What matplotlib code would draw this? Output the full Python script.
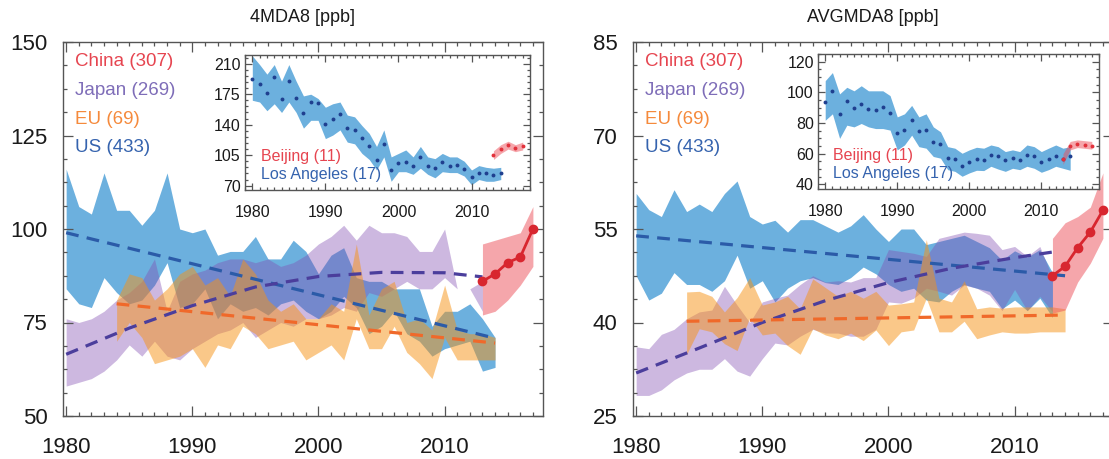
import numpy as np
import matplotlib
matplotlib.use('Agg')
import matplotlib.pyplot as plt
from matplotlib.ticker import MultipleLocator, FixedLocator, AutoMinorLocator

plt.rcParams['font.family'] = ['Liberation Sans', 'DejaVu Sans']

### DATA
years = np.arange(1980, 2015)          # US, Los Angeles
years_jp = np.arange(1980, 2014)       # Japan
years_eu = np.arange(1984, 2015)       # EU
years_cn = np.arange(2013, 2018)       # China, Beijing

# 4MDA8 [ppb]
us4_lo = [84, 80, 79, 87, 83, 80, 81, 85, 91, 79, 80, 84, 76, 80, 78, 79, 77, 80, 81, 78,
          76, 78, 82, 79, 72, 74, 78, 72, 70, 66, 68, 69, 70, 62, 63]
us4_hi = [116, 106, 104, 115, 105, 105, 101, 105, 115, 100, 99, 100, 93, 94, 94, 98, 92, 92, 97, 94,
          88, 93, 95, 87, 86, 86, 84, 84, 84, 74, 78, 78, 80, 76, 71]
jp4_lo = [58, 59, 60, 62, 65, 69, 66, 70, 66, 65, 68, 70, 72, 73, 75, 71, 73, 75, 74, 76,
          76, 77, 79, 78, 83, 82, 84, 86, 84, 84, 87, 84, 84, 78]
jp4_hi = [76, 75, 76, 78, 81, 83, 86, 92, 78, 86, 88, 89, 91, 92, 92, 91, 92, 90, 91, 93,
          96, 98, 101, 97, 101, 99, 99, 98, 94, 94, 100, 84, 84, 86]
eu4_lo = [70, 75, 71, 64, 65, 66, 68, 63, 69, 68, 74, 72, 68, 69, 70, 65, 67, 69, 65, 76,
          68, 68, 74, 67, 64, 60, 71, 65, 65, 65, 65]
eu4_hi = [81, 88, 87, 81, 84, 88, 90, 85, 87, 82, 92, 88, 81, 78, 80, 76, 76, 80, 78, 96,
          77, 84, 86, 75, 76, 73, 85, 73, 72, 72, 71]
cn4_med = [86, 88, 91, 92.5, 100]
cn4_lo = [77, 78, 81, 85, 90]
cn4_hi = [96, 97, 98, 99, 106]

us4_trend_x, us4_trend = [1980, 2014], [99, 70.8]
jp4_trend_x = [1980, 1985, 1990, 1995, 2000, 2005, 2010, 2013]
jp4_trend = [66.5, 73.5, 79.5, 84.5, 87.3, 88.4, 88.3, 87.2]
eu4_trend_x, eu4_trend = [1984, 2014], [80, 69.5]

la4_med = [193, 187, 176, 195, 170, 190, 171, 153, 166, 165, 141, 147, 152, 136, 134, 125, 116, 100, 118, 88,
           96, 97, 93, 103, 93, 90, 97, 93, 94, 89, 80, 85, 84, 82, 85]
la4_lo = [168, 166, 156, 164, 154, 166, 154, 136, 145, 145, 124, 128, 134, 120, 118, 107, 100, 88, 103, 75,
          86, 86, 83, 90, 83, 79, 86, 85, 85, 81, 71, 77, 75, 75, 77]
la4_hi = [219, 209, 198, 209, 190, 209, 190, 173, 175, 170, 160, 164, 166, 151, 149, 139, 130, 115, 134, 103,
          107, 111, 103, 115, 103, 101, 107, 103, 103, 98, 88, 93, 91, 90, 91]
bj4_med = [105, 112, 116.5, 113, 115.5]
bj4_lo = [100, 107, 112, 109, 111]
bj4_hi = [110, 117, 121, 117, 120]

# AVGMDA8 [ppb]
usa_lo = [47.5, 43.6, 44.7, 48, 46.1, 46.1, 45, 46.7, 50.8, 45.5, 46.7, 43.3, 45.5, 46.7, 47.2, 46.4, 46.1,
          47.2, 48.9, 47.8, 46.1, 45, 45.5, 43.6, 43.3, 45, 46.1, 45.5, 45, 42.2, 43.6, 41.9, 43.9, 40.8]
usa_hi = [60.7, 58.1, 57, 61.3, 57.8, 59, 57.8, 60.7, 62.7, 57, 55.8, 56.4, 54.5, 56.5, 56.5, 55.5, 54.5,
          55.5, 57.3, 55, 53, 55, 55, 52.5, 53, 53.5, 54, 53, 52, 50, 51.5, 50.5, 51.7, 48]
jpa_lo = [28.3, 28.3, 29.2, 30.8, 31.9, 32.5, 32.5, 34.2, 32.2, 31.4, 34.2, 36.7, 36.4, 37.8, 38.9, 38.3, 38.3,
          37.8, 37.8, 38.9, 43.3, 43.1, 43.9, 45.5, 45, 44.4, 46, 45.5, 44.4, 41.9, 45.3, 41.9, 44.2, 41.7]
jpa_hi = [36.1, 35.8, 38.1, 38.9, 40.6, 41.7, 42, 45.8, 42.8, 40, 43.3, 43.9, 44.4, 46.1, 47.5, 46.5, 46.7,
          46.5, 47.2, 47.2, 51.7, 51.4, 51.1, 50.6, 53.5, 54, 54.5, 54.3, 54, 51.7, 52.2, 50.6, 52.2, 47.2]
eua_lo = [34.9, 39, 38.5, 36.6, 35.5, 40.8, 38, 38.3, 36.3, 34.9, 39, 38, 37.4, 38.3, 37.1, 38.8,
          36.3, 38.5, 38.8, 43.9, 38.5, 38.5, 40.2, 37.4, 38, 38.5, 38.3, 38.3, 38.5, 38.5, 38.5]
eua_hi = [44.9, 45, 44.2, 41.7, 44, 47.2, 42.8, 43.3, 44.2, 42.2, 47, 45.6, 44.2, 45, 43.9, 45,
          42.8, 43, 43.3, 53.3, 43.9, 43.3, 46.7, 42.2, 42.5, 42.3, 42.5, 42.5, 42.5, 42.5, 42.2]
cna_med = [47.5, 49, 52, 54.5, 58]
cna_lo = [41.5, 42, 46.5, 49.5, 53.5]
cna_hi = [53.5, 56, 57, 58.5, 64]

usa_trend_x, usa_trend = [1980, 2014], [53.9, 47.5]
jpa_trend_x = [1980, 1985, 1990, 1995, 2000, 2005, 2010, 2013]
jpa_trend = [31.9, 35.9, 40, 43.5, 46.4, 48.7, 50.4, 51.3]
eua_trend_x, eua_trend = [1984, 2014], [40.2, 41.2]

laa_med = [93.6, 101, 85.7, 94.2, 89.7, 92.5, 88.9, 88.7, 90.4, 86.5, 73.2, 75.4, 81.8, 74.7, 75.4, 67.9, 66.1,
           57.3, 56.5, 51.8, 54.8, 56.5, 56.1, 59.3, 58.2, 55.6, 57.1, 56.1, 59.3, 58.2, 54.8, 56.7, 58.6, 56.5, 58.2]
laa_lo = [81.8, 86, 70, 78.6, 77.5, 79.7, 77.5, 76.4, 76.4, 75.4, 62.5, 65.7, 72.1, 64.6, 63.6, 58.2, 57.1,
          49.6, 48.5, 45.3, 47.5, 49.2, 49, 51.8, 50, 48.5, 50.5, 49.6, 51.8, 50.5, 47.9, 49.6, 51.8, 50.5, 49.2]
laa_hi = [107.6, 112.9, 99, 103.3, 101, 104.3, 101, 101, 101, 97.9, 84, 86, 91.5, 84, 86, 77.5, 74.3,
          64.6, 63.6, 60.3, 62.5, 64.2, 63.6, 65.7, 64.6, 61.4, 62.5, 61.4, 65.7, 64.6, 61.4, 63.6, 65.7, 63.6, 64.6]
bja_med = [56.5, 65, 66.4, 65.7, 65.3]
bja_lo = [53, 62.5, 64, 63.5, 63]
bja_hi = [60, 68, 69, 68.5, 68]

### STYLE
W, H = 1109, 459
C_US, C_JP, C_EU, C_CN = '#3B96D3', '#824EB2', '#F79315', '#ED4F59'
T_US, T_JP, T_EU, T_CN = '#2B5BA8', '#4B3E9C', '#F0692A', '#D8262F'
L_CN, L_JP, L_EU, L_US = '#E64550', '#7E6DB8', '#F58A3C', '#3563AE'
DOT_LA, DOT_BJ = '#1F3F8F', '#E2313B'
DASH = (0, (4, 2.6))

fig = plt.figure(figsize=(W / 100, H / 100), dpi=100)


def px_axes(x0, y0, x1, y1):
    return fig.add_axes([x0 / W, 1 - y1 / H, (x1 - x0) / W, (y1 - y0) / H])


def style_axes(ax, size, xpad, ypad, maj, mnr):
    for s in ax.spines.values():
        s.set_color('#555555')
        s.set_linewidth(1.0)
    ax.tick_params(which='both', direction='in', top=True, right=True,
                   colors='#555555', labelcolor='#1a1a1a', labelsize=size, width=0.9)
    ax.tick_params(which='major', length=maj)
    ax.tick_params(which='minor', length=mnr)
    ax.tick_params(axis='x', pad=xpad)
    ax.tick_params(axis='y', pad=ypad)


def main_panel(x0, title, ylim, yticks, us, jp, eu, cn, trends):
    ax = px_axes(x0, 42, x0 + 480, 416)
    ax.fill_between(years[:len(us[0])], us[0], us[1], color=C_US, alpha=0.75, lw=0)
    ax.fill_between(years_jp, jp[0], jp[1], color=C_JP, alpha=0.4, lw=0)
    ax.fill_between(years_eu, eu[0], eu[1], color=C_EU, alpha=0.5, lw=0)
    ax.fill_between(years_cn, cn[1], cn[2], color=C_CN, alpha=0.5, lw=0)
    for (tx, ty), col in zip(trends, [T_US, T_JP, T_EU]):
        ax.plot(tx, ty, ls=DASH, lw=2.3, color=col)
    ax.plot(years_cn, cn[0], '-o', color=T_CN, lw=2, ms=6)

    ax.set_xlim(1979.75, 2017.8)
    ax.set_ylim(*ylim)
    ax.xaxis.set_major_locator(MultipleLocator(10))
    ax.xaxis.set_minor_locator(MultipleLocator(1))
    ax.yaxis.set_major_locator(FixedLocator(yticks))
    ax.yaxis.set_minor_locator(AutoMinorLocator(4))
    style_axes(ax, 16, 15, 11, 7, 3)

    ax.text(0.5, 1 + 24 / 374, title, transform=ax.transAxes, ha='center',
            va='center', fontsize=13, color='#1a1a1a')
    for i, (txt, col) in enumerate([('China (307)', L_CN), ('Japan (269)', L_JP),
                                    ('EU (69)', L_EU), ('US (433)', L_US)]):
        ax.text(12 / 480, 1 - (20 + 28.5 * i) / 374, txt, transform=ax.transAxes,
                ha='left', va='center', fontsize=13.5, color=col)
    return ax


def inset_panel(x0, y0, x1, y1, ylim, yticks, ymin, la, bj):
    ax = px_axes(x0, y0, x1, y1)
    ax.set_facecolor('white')
    ax.fill_between(years, la[1], la[2], color=C_US, alpha=0.75, lw=0)
    ax.fill_between(years_cn, bj[1], bj[2], color=C_CN, alpha=0.5, lw=0)
    ax.plot(years, la[0], 'o', color=DOT_LA, ms=2.8, mew=0)
    ax.plot(years_cn, bj[0], 'o', color=DOT_BJ, ms=2.8, mew=0)

    ax.set_xlim(1979, 2018)
    ax.set_ylim(*ylim)
    ax.xaxis.set_major_locator(MultipleLocator(10))
    ax.xaxis.set_minor_locator(MultipleLocator(1))
    ax.yaxis.set_major_locator(FixedLocator(yticks))
    ax.yaxis.set_minor_locator(MultipleLocator(ymin))
    style_axes(ax, 11.5, 11, 3, 5, 2.5)

    ax.text(0.055, 0.25, 'Beijing (11)', transform=ax.transAxes, ha='left',
            va='center', fontsize=11.5, color=L_CN)
    ax.text(0.055, 0.115, 'Los Angeles (17)', transform=ax.transAxes, ha='left',
            va='center', fontsize=11.5, color=L_US)
    return ax


### LEFT: 4MDA8
main_panel(63, '4MDA8 [ppb]', (50, 150), [50, 75, 100, 125, 150],
           (us4_lo, us4_hi), (jp4_lo, jp4_hi), (eu4_lo, eu4_hi),
           (cn4_med, cn4_lo, cn4_hi),
           [(us4_trend_x, us4_trend), (jp4_trend_x, jp4_trend), (eu4_trend_x, eu4_trend)])
inset_panel(245, 55, 530, 190, (65, 220), [70, 105, 140, 175, 210], 7,
            (la4_med, la4_lo, la4_hi), (bj4_med, bj4_lo, bj4_hi))

### RIGHT: AVGMDA8 (panel runs past the right edge of the figure)
main_panel(633, 'AVGMDA8 [ppb]', (25, 85), [25, 40, 55, 70, 85],
           (usa_lo, usa_hi), (jpa_lo, jpa_hi), (eua_lo, eua_hi),
           (cna_med, cna_lo, cna_hi),
           [(usa_trend_x, usa_trend), (jpa_trend_x, jpa_trend), (eua_trend_x, eua_trend)])
inset_panel(818, 54, 1099, 189, (37, 125), [40, 60, 80, 100, 120], 5,
            (laa_med, laa_lo, laa_hi), (bja_med, bja_lo, bja_hi))

fig.savefig('out.png', dpi=100)
